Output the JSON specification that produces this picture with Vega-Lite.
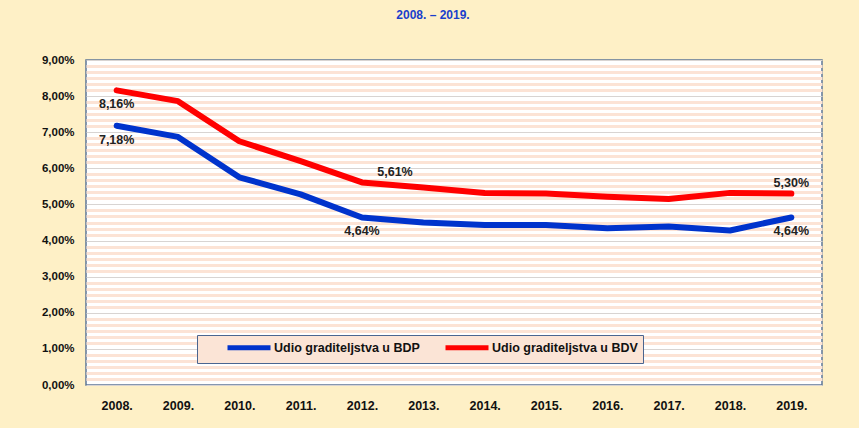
{
  "$schema": "https://vega.github.io/schema/vega-lite/v6.json",
  "width": 736,
  "height": 325,
  "autosize": {"type": "none"},
  "padding": {"left": 86, "top": 60, "right": 37, "bottom": 43},
  "background": "#fef0c6",
  "title": {
    "text": "2008. – 2019.",
    "color": "#1a3fcc",
    "fontSize": 12,
    "fontWeight": "bold",
    "font": "Liberation Sans Narrow, Arial Narrow, Liberation Sans, sans-serif",
    "anchor": "middle",
    "dx": -21,
    "offset": 32
  },
  "data": {
    "values": [
      {"year": "2008.", "series": "Udio graditeljstva u BDP", "value": 0.0718},
      {"year": "2009.", "series": "Udio graditeljstva u BDP", "value": 0.0687},
      {"year": "2010.", "series": "Udio graditeljstva u BDP", "value": 0.0575},
      {"year": "2011.", "series": "Udio graditeljstva u BDP", "value": 0.0528},
      {"year": "2012.", "series": "Udio graditeljstva u BDP", "value": 0.0464},
      {"year": "2013.", "series": "Udio graditeljstva u BDP", "value": 0.0450},
      {"year": "2014.", "series": "Udio graditeljstva u BDP", "value": 0.0443},
      {"year": "2015.", "series": "Udio graditeljstva u BDP", "value": 0.0443},
      {"year": "2016.", "series": "Udio graditeljstva u BDP", "value": 0.0434},
      {"year": "2017.", "series": "Udio graditeljstva u BDP", "value": 0.0439},
      {"year": "2018.", "series": "Udio graditeljstva u BDP", "value": 0.0428},
      {"year": "2019.", "series": "Udio graditeljstva u BDP", "value": 0.0464},
      {"year": "2008.", "series": "Udio graditeljstva u BDV", "value": 0.0816},
      {"year": "2009.", "series": "Udio graditeljstva u BDV", "value": 0.0786},
      {"year": "2010.", "series": "Udio graditeljstva u BDV", "value": 0.0675},
      {"year": "2011.", "series": "Udio graditeljstva u BDV", "value": 0.0620},
      {"year": "2012.", "series": "Udio graditeljstva u BDV", "value": 0.0561},
      {"year": "2013.", "series": "Udio graditeljstva u BDV", "value": 0.0547},
      {"year": "2014.", "series": "Udio graditeljstva u BDV", "value": 0.0532},
      {"year": "2015.", "series": "Udio graditeljstva u BDV", "value": 0.0530},
      {"year": "2016.", "series": "Udio graditeljstva u BDV", "value": 0.0521},
      {"year": "2017.", "series": "Udio graditeljstva u BDV", "value": 0.0515},
      {"year": "2018.", "series": "Udio graditeljstva u BDV", "value": 0.0532},
      {"year": "2019.", "series": "Udio graditeljstva u BDV", "value": 0.0530}
    ]
  },
  "encoding": {
    "x": {
      "field": "year",
      "type": "nominal",
      "sort": null,
      "title": null,
      "axis": {
        "labelAngle": 0,
        "ticks": false,
        "domain": false,
        "labelPadding": 14,
        "labelFontSize": 12.5,
        "labelFontWeight": "bold",
        "labelColor": "#111111",
        "labelFont": "Liberation Sans Narrow, Arial Narrow, Liberation Sans, sans-serif"
      }
    },
    "y": {
      "field": "value",
      "type": "quantitative",
      "title": null,
      "scale": {"domain": [0, 0.09], "nice": false, "zero": true},
      "axis": {
        "format": ".2%",
        "values": [0, 0.00167, 0.00333, 0.005, 0.00667, 0.00833,
                   0.01, 0.01167, 0.01333, 0.015, 0.01667, 0.01833,
                   0.02, 0.02167, 0.02333, 0.025, 0.02667, 0.02833,
                   0.03, 0.03167, 0.03333, 0.035, 0.03667, 0.03833,
                   0.04, 0.04167, 0.04333, 0.045, 0.04667, 0.04833,
                   0.05, 0.05167, 0.05333, 0.055, 0.05667, 0.05833,
                   0.06, 0.06167, 0.06333, 0.065, 0.06667, 0.06833,
                   0.07, 0.07167, 0.07333, 0.075, 0.07667, 0.07833,
                   0.08, 0.08167, 0.08333, 0.085, 0.08667, 0.08833,
                   0.09],
        "labelExpr": "abs(datum.value * 100 - round(datum.value * 100)) < 0.01 ? datum.label : ''",
        "labelOverlap": false,
        "ticks": false,
        "domain": false,
        "labelPadding": 12,
        "labelFontSize": 11.5,
        "labelFontWeight": "bold",
        "labelColor": "#111111",
        "labelFont": "Liberation Sans Narrow, Arial Narrow, Liberation Sans, sans-serif",
        "grid": true,
        "gridColor": {
          "condition": {"test": "abs(datum.value * 100 - round(datum.value * 100)) < 0.01", "value": "#d8d4d2"},
          "value": "#fce3d5"
        },
        "gridWidth": {
          "condition": {"test": "abs(datum.value * 100 - round(datum.value * 100)) < 0.01", "value": 1},
          "value": 3
        },
        "gridOpacity": 1
      }
    }
  },
  "layer": [
    {
      "mark": {"type": "line", "strokeWidth": 6, "strokeCap": "round", "strokeJoin": "round"},
      "encoding": {
        "color": {
          "field": "series",
          "type": "nominal",
          "title": null,
          "scale": {
            "domain": ["Udio graditeljstva u BDP", "Udio graditeljstva u BDV"],
            "range": ["#0033cc", "#ff0000"]
          },
          "legend": {
            "orient": "none",
            "legendX": 111,
            "legendY": 275,
            "direction": "horizontal",
            "fillColor": "#fbe4d6",
            "strokeColor": "#4a6590",
            "padding": 5,
            "symbolType": "M3.6,0H12.2",
            "symbolSize": 100,
            "symbolStrokeWidth": 5,
            "columnPadding": 0,
            "labelOffset": 57,
            "labelFontSize": 12.5,
            "labelFontWeight": "bold",
            "labelColor": "#111111",
            "labelFont": "Liberation Sans Narrow, Arial Narrow, Liberation Sans, sans-serif"
          }
        }
      }
    },
    {
      "transform": [
        {"filter": "datum.year == '2008.' || (datum.series == 'Udio graditeljstva u BDP' && (datum.year == '2012.' || datum.year == '2019.'))"}
      ],
      "mark": {
        "type": "text",
        "dy": 14,
        "fontSize": 12.5,
        "fontWeight": "bold",
        "color": "#222222",
        "font": "Liberation Sans Narrow, Arial Narrow, Liberation Sans, sans-serif"
      },
      "encoding": {"text": {"field": "value", "type": "quantitative", "format": ".2%"}}
    },
    {
      "transform": [
        {"filter": "datum.series == 'Udio graditeljstva u BDV' && datum.year == '2019.'"}
      ],
      "mark": {
        "type": "text",
        "dy": -11,
        "fontSize": 12.5,
        "fontWeight": "bold",
        "color": "#222222",
        "font": "Liberation Sans Narrow, Arial Narrow, Liberation Sans, sans-serif"
      },
      "encoding": {"text": {"field": "value", "type": "quantitative", "format": ".2%"}}
    },
    {
      "transform": [
        {"filter": "datum.series == 'Udio graditeljstva u BDV' && datum.year == '2012.'"}
      ],
      "mark": {
        "type": "text",
        "dx": 33,
        "dy": -10,
        "fontSize": 12.5,
        "fontWeight": "bold",
        "color": "#222222",
        "font": "Liberation Sans Narrow, Arial Narrow, Liberation Sans, sans-serif"
      },
      "encoding": {"text": {"field": "value", "type": "quantitative", "format": ".2%"}}
    }
  ],
  "config": {
    "locale": {
      "number": {"decimal": ",", "thousands": ".", "grouping": [3], "currency": ["", " €"]}
    },
    "view": {"fill": "#ffffff", "stroke": "#5d7596", "strokeWidth": 1.5}
  }
}
